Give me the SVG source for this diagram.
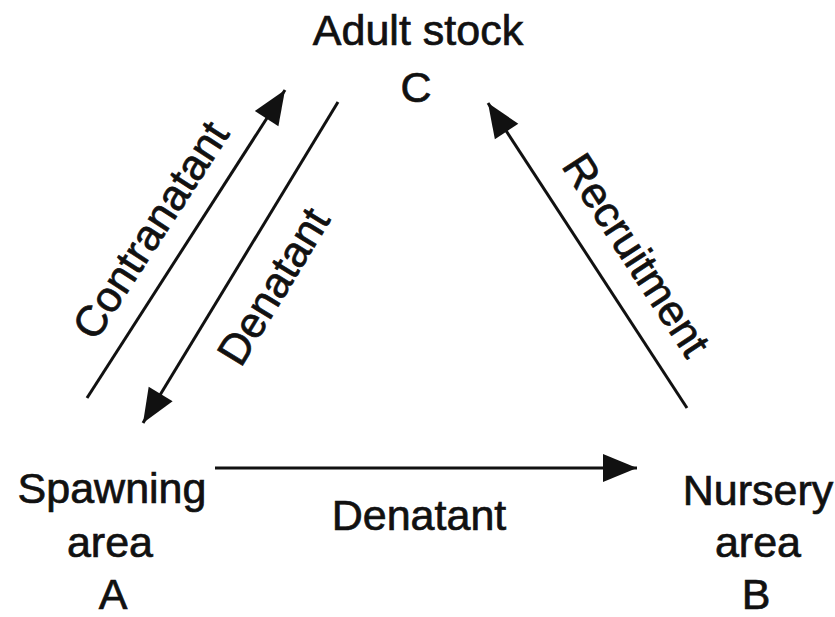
<svg xmlns="http://www.w3.org/2000/svg" width="835" height="617" viewBox="0 0 835 617">
<style>
text{font-family:"Liberation Sans",Arial,sans-serif;font-size:43px;fill:#111;stroke:#111;stroke-width:0.7;text-anchor:middle}
.c{stroke:#111;stroke-width:3;fill:none}
</style>
<defs>
<marker id="ah" markerUnits="userSpaceOnUse" viewBox="-1 -15 36 30" markerWidth="36" markerHeight="30" refX="34" refY="0" orient="auto">
<path d="M0,-14 L34,0 L0,14 z" fill="#111"/>
</marker>
</defs>
<rect width="835" height="617" fill="#fff"/>
<g id="nodeC"><text x="418" y="45">Adult stock</text><text x="416" y="102">C</text></g>
<g id="nodeA"><text x="112" y="503">Spawning</text><text x="110" y="557">area</text><text x="113" y="609">A</text></g>
<g id="nodeB"><text x="758" y="505">Nursery</text><text x="758" y="557">area</text><text x="756" y="609">B</text></g>
<g id="connectors">
<line class="c" x1="87" y1="398" x2="285" y2="90" marker-end="url(#ah)"/>
<line class="c" x1="338" y1="102" x2="143" y2="423" marker-end="url(#ah)"/>
<line class="c" x1="687" y1="408" x2="488" y2="103" marker-end="url(#ah)"/>
<line class="c" x1="215" y1="468" x2="637" y2="468" marker-end="url(#ah)"/>
<text transform="translate(163,238) rotate(-57.1)">Contranatant</text>
<text transform="translate(286,294) rotate(-58.7)">Denatant</text>
<text transform="translate(624,263) rotate(56.9)">Recruitment</text>
<text x="419" y="530">Denatant</text>
</g>
</svg>
